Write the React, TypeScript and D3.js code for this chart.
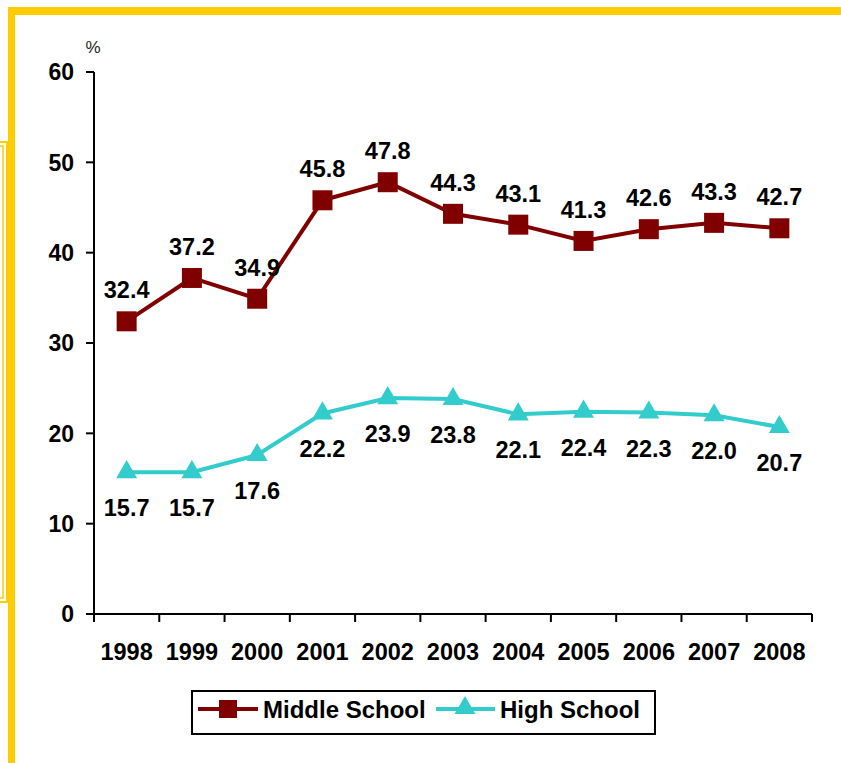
import * as d3 from "d3";

const years = ["1998", "1999", "2000", "2001", "2002", "2003", "2004", "2005", "2006", "2007", "2008"];
const middleSchool = [32.4, 37.2, 34.9, 45.8, 47.8, 44.3, 43.1, 41.3, 42.6, 43.3, 42.7];
const highSchool = [15.7, 15.7, 17.6, 22.2, 23.9, 23.8, 22.1, 22.4, 22.3, 22.0, 20.7];
const yTicks = [0, 10, 20, 30, 40, 50, 60];

const W = 841;
const H = 763;
const FONT = "'Liberation Sans', Arial, Helvetica, sans-serif";
const RED = "#800000";
const CYAN = "#33CCCC";
const GOLD = "#FFCC00";

function App() {
  const x = d3.scaleBand<string>().domain(years).range([94, 812]).padding(0);
  const y = d3.scaleLinear().domain([0, 60]).range([614, 72]);
  const cx = (yr: string) => (x(yr) as number) + x.bandwidth() / 2;

  const line = d3
    .line<number>()
    .x((_, i) => cx(years[i]))
    .y((d) => y(d));

  const tri = d3.symbol().type(d3.symbolTriangle).size(190)();
  const edges = years.map((yr) => x(yr) as number).concat([812]);

  return (
    <svg
      width={W}
      height={H}
      style={{ position: "absolute", left: 0, top: 0, background: "#fff" }}
      fontFamily={FONT}
    >
      {/* frame */}
      <rect x={8} y={7} width={W - 8} height={8} fill={GOLD} />
      <rect x={8} y={7} width={7} height={H - 7} fill={GOLD} />
      <rect x={-10} y={142} width={17} height={460} fill="none" stroke={GOLD} strokeWidth={2} />
      <rect x={-10} y={146} width={13} height={452} fill="none" stroke={GOLD} strokeWidth={1.5} />

      {/* y axis */}
      <line x1={94} x2={94} y1={y(60)} y2={622} stroke="#000" strokeWidth={2} />
      {yTicks.map((t) => (
        <g key={t}>
          <line x1={86} x2={94} y1={y(t)} y2={y(t)} stroke="#000" strokeWidth={2} />
          <text x={74} y={y(t)} dy="0.36em" textAnchor="end" fontSize={23} fontWeight="bold">
            {t}
          </text>
        </g>
      ))}
      <text x={93} y={53} textAnchor="middle" fontSize={17} fill="#222">
        %
      </text>

      {/* x axis */}
      <line x1={86} x2={812} y1={y(0)} y2={y(0)} stroke="#000" strokeWidth={2} />
      {edges.map((e, i) => (
        <line key={i} x1={e} x2={e} y1={y(0)} y2={622} stroke="#000" strokeWidth={2} />
      ))}
      {years.map((yr) => (
        <text key={yr} x={cx(yr)} y={660} textAnchor="middle" fontSize={23.5} fontWeight="bold">
          {yr}
        </text>
      ))}

      {/* middle school */}
      <path d={line(middleSchool) || ""} fill="none" stroke={RED} strokeWidth={4} />
      {middleSchool.map((v, i) => (
        <g key={i}>
          <rect x={cx(years[i]) - 10} y={y(v) - 10} width={20} height={20} fill={RED} />
          <text x={cx(years[i])} y={y(v) - 23} textAnchor="middle" fontSize={23.5} fontWeight="bold">
            {v.toFixed(1)}
          </text>
        </g>
      ))}

      {/* high school */}
      <path d={line(highSchool) || ""} fill="none" stroke={CYAN} strokeWidth={4} />
      {highSchool.map((v, i) => (
        <g key={i}>
          <path d={tri || ""} transform={`translate(${cx(years[i])},${y(v)})`} fill={CYAN} />
          <text x={cx(years[i])} y={y(v) + 44} textAnchor="middle" fontSize={23.5} fontWeight="bold">
            {v.toFixed(1)}
          </text>
        </g>
      ))}

      {/* legend */}
      <rect x={192} y={691} width={463} height={43} fill="#fff" stroke="#000" strokeWidth={2} />
      <line x1={198} x2={258} y1={709} y2={709} stroke={RED} strokeWidth={4} />
      <rect x={219} y={700} width={18} height={18} fill={RED} />
      <text x={263} y={718} fontSize={24} fontWeight="bold">
        Middle School
      </text>
      <line x1={436} x2={495} y1={709} y2={709} stroke={CYAN} strokeWidth={4} />
      <path d={tri || ""} transform="translate(465,708)" fill={CYAN} />
      <text x={500} y={718} fontSize={24} fontWeight="bold">
        High School
      </text>
    </svg>
  );
}

export default App;
